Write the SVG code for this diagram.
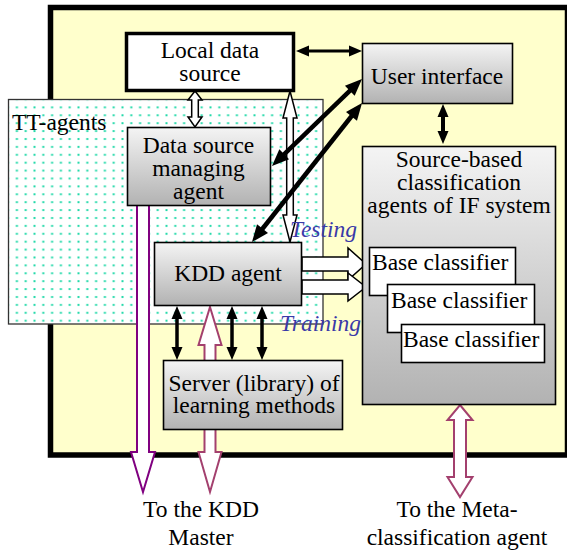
<svg xmlns="http://www.w3.org/2000/svg" width="567" height="551" viewBox="0 0 567 551">
  <defs>
    <linearGradient id="grey" x1="0" y1="0" x2="0" y2="1">
      <stop offset="0" stop-color="#f4f4f4"/>
      <stop offset="1" stop-color="#b2b2b2"/>
    </linearGradient>
    <pattern id="dots" patternUnits="userSpaceOnUse" x="21.3" y="158.7" width="8.8" height="7.9">
      <rect x="3.4" y="3" width="2" height="2" fill="#22d9a9"/>
    </pattern>
    <!-- solid heads; origin at the head base so line ends stay hidden -->
    <marker id="hs" markerUnits="userSpaceOnUse" markerWidth="13" markerHeight="11" refX="1" refY="5.5" orient="auto-start-reverse" overflow="visible">
      <path d="M0,0 L13,5.5 L0,11 Z" fill="#000"/>
    </marker>
    <marker id="hb" markerUnits="userSpaceOnUse" markerWidth="17" markerHeight="14" refX="1" refY="7" orient="auto-start-reverse" overflow="visible">
      <path d="M0,0 L17,7 L0,14 Z" fill="#000"/>
    </marker>
  </defs>
  <style>
    text { font-family: "Liberation Serif", serif; font-size: 23.5px; fill: #000; }
    .mid { text-anchor: middle; }
    .lbl { font-style: italic; fill: #3a3aa8; }
    .box { fill: url(#grey); stroke: #000; stroke-width: 1.6; }
    .wbox { fill: #fff; stroke: #000; stroke-width: 1.6; }
    .bar { stroke: #000; fill: none; }
    .hollow { fill: #fff; stroke: #000; stroke-width: 1.5; stroke-linejoin: miter; }
    .maroon { fill: #fff; stroke: #a3406e; stroke-width: 2; }
    .purple { fill: #fff; stroke: #800080; stroke-width: 2; }
  </style>

  <!-- local site container -->
  <g id="site">
    <rect x="50.5" y="7.5" width="517" height="447.5" fill="#ffffcc" stroke="#000" stroke-width="5.5"/>
  </g>

  <!-- TT-agents region -->
  <g id="tt-agents">
    <rect x="8.5" y="99.5" width="314.5" height="224.5" fill="#fff" stroke="#333" stroke-width="1.3"/>
    <rect x="9.5" y="100.5" width="312.5" height="222.5" fill="url(#dots)"/>
    <text x="12" y="130" font-family="Liberation Serif, serif">TT-agents</text>
  </g>

  <g id="connectors">
    <!-- local data source <-> data source managing agent -->
    <path class="hollow" d="M195,91 L202,100 L198.3,100 L198.3,117 L202,117 L195,127 L188,117 L191.7,117 L191.7,100 L188,100 Z"/>
    <!-- local data source <-> KDD agent -->
    <path class="hollow" d="M290,91 L297,118 L293.3,118 L293.3,215 L297,215 L290,242 L283,215 L286.7,215 L286.7,118 L283,118 Z"/>
    <!-- local data source <-> user interface -->
    <line class="bar" x1="308" y1="51" x2="350" y2="51" stroke-width="3" marker-start="url(#hs)" marker-end="url(#hs)"/>
    <!-- user interface <-> classification agents -->
    <line class="bar" x1="443" y1="116" x2="443" y2="132" stroke-width="4" marker-start="url(#hs)" marker-end="url(#hs)"/>
    <!-- user interface <-> data source managing agent -->
    <line class="bar" x1="350.5" y1="90.1" x2="283.5" y2="154.9" stroke-width="4.5" marker-start="url(#hb)" marker-end="url(#hb)"/>
    <!-- user interface <-> KDD agent -->
    <line class="bar" x1="352.1" y1="115.5" x2="261.9" y2="229.5" stroke-width="4.5" marker-start="url(#hb)" marker-end="url(#hb)"/>
    <!-- KDD agent <-> server of learning methods -->
    <line class="bar" x1="177" y1="318" x2="177" y2="348" stroke-width="3.5" marker-start="url(#hs)" marker-end="url(#hs)"/>
    <line class="bar" x1="232" y1="318" x2="232" y2="348" stroke-width="3.5" marker-start="url(#hs)" marker-end="url(#hs)"/>
    <line class="bar" x1="262" y1="318" x2="262" y2="348" stroke-width="3.5" marker-start="url(#hs)" marker-end="url(#hs)"/>
    <!-- testing / training flows into the base classifiers -->
    <path class="hollow" d="M302,257 L348,257 L348,248 L366,264 L348,280 L348,271 L302,271 Z"/>
    <path class="hollow" d="M302,280 L348,280 L348,273 L366,287 L348,301 L348,294 L302,294 Z"/>
    <!-- KDD agent <-> KDD master -->
    <path class="maroon" d="M210,307 L221.5,345 L215.5,345 L215.5,452 L221.5,452 L210,492 L198.5,452 L204.5,452 L204.5,345 L198.5,345 Z"/>
    <!-- data source managing agent -> KDD master -->
    <path class="purple" d="M137,206 L137,452 L131,452 L143,492 L155,452 L149,452 L149,206"/>
    <!-- classification agents <-> meta-classification agent -->
    <path class="maroon" d="M460,405 L472.5,420 L466,420 L466,477 L472.5,477 L460,497 L447.5,477 L454,477 L454,420 L447.5,420 Z"/>
  </g>

  <g id="local-data-source">
    <rect x="126.5" y="33.5" width="167" height="57" fill="#fff" stroke="#000" stroke-width="3.5"/>
    <text class="mid" x="210" y="58">Local data</text>
    <text class="mid" x="210" y="81">source</text>
  </g>

  <g id="user-interface">
    <rect class="box" x="362.5" y="43.5" width="150" height="60"/>
    <text class="mid" x="437" y="84">User interface</text>
  </g>

  <g id="classification-agents">
    <rect class="box" x="362.5" y="146.5" width="193" height="258"/>
    <text class="mid" x="459" y="167">Source-based</text>
    <text class="mid" x="459" y="190">classification</text>
    <text class="mid" x="459" y="213">agents of IF system</text>
  </g>

  <g id="base-classifier-1">
    <rect class="wbox" x="369.5" y="247.5" width="146" height="48"/>
    <text x="372" y="270">Base classifier</text>
  </g>
  <g id="base-classifier-2">
    <rect class="wbox" x="387.5" y="284.5" width="147" height="48"/>
    <text x="391" y="308">Base classifier</text>
  </g>
  <g id="base-classifier-3">
    <rect class="wbox" x="401.5" y="324.5" width="143" height="38"/>
    <text x="403" y="347">Base classifier</text>
  </g>

  <g id="data-source-managing-agent">
    <rect class="box" x="127.5" y="127.5" width="143" height="78"/>
    <text class="mid" x="198.5" y="153">Data source</text>
    <text class="mid" x="198.5" y="176">managing</text>
    <text class="mid" x="198.5" y="199">agent</text>
  </g>

  <g id="kdd-agent">
    <rect class="box" x="154.5" y="242.5" width="147" height="63"/>
    <text class="mid" x="228" y="281">KDD agent</text>
  </g>

  <g id="learning-server">
    <rect class="box" x="163.5" y="360.5" width="179" height="69"/>
    <text class="mid" x="254" y="391">Server (library) of</text>
    <text class="mid" x="254" y="413">learning methods</text>
  </g>

  <g id="flow-labels">
    <text class="lbl" x="290" y="237">Testing</text>
    <text class="lbl" x="280" y="331">Training</text>
  </g>

  <g id="kdd-master">
    <text class="mid" x="201" y="517">To the KDD</text>
    <text class="mid" x="201" y="545">Master</text>
  </g>

  <g id="meta-classification-agent">
    <text class="mid" x="457" y="517">To the Meta-</text>
    <text class="mid" x="457" y="545">classification agent</text>
  </g>
</svg>
